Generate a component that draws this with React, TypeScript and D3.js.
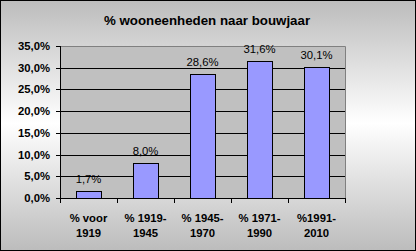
import React from "react";
import * as d3 from "d3";

const categories = ["% voor|1919", "% 1919-|1945", "% 1945-|1970", "% 1971-|1990", "%1991-|2010"];
const values = [1.7, 8.0, 28.6, 31.6, 30.1];
const valueLabels = ["1,7%", "8,0%", "28,6%", "31,6%", "30,1%"];
const yTicks = [0, 5, 10, 15, 20, 25, 30, 35];
const title = "% wooneenheden naar bouwjaar";

const W = 416;
const H = 251;
const plot = { left: 60, right: 345, top: 46, bottom: 198 };
const font = "'Liberation Sans', Arial, sans-serif";

export default function App() {
  const x = d3
    .scaleBand<string>()
    .domain(categories)
    .range([plot.left, plot.right])
    .paddingInner(0.56)
    .paddingOuter(0.28);
  const y = d3.scaleLinear().domain([0, 35]).range([plot.bottom, plot.top]);
  const step = x.step();
  const fmt = (v: number) => d3.format(".1f")(v).replace(".", ",") + "%";

  return (
    <div style={{ position: "fixed", left: 0, top: 0 }}>
      <svg width={W} height={H} style={{ display: "block" }}>
        <defs>
          <linearGradient id="bg" x1="0" y1="0" x2="0" y2="1">
            <stop offset="0" stopColor="#bcbcbc" />
            <stop offset="0.49" stopColor="#ffffff" />
            <stop offset="1" stopColor="#bcbcbc" />
          </linearGradient>
        </defs>
        <rect x={0.5} y={0.5} width={W - 1} height={H - 1} fill="url(#bg)" stroke="#000" strokeWidth={1} />
        <text
          x={207}
          y={25}
          textAnchor="middle"
          fontFamily={font}
          fontWeight="bold"
          fontSize={13.3}
          fill="#000"
        >
          {title}
        </text>
        <rect
          x={plot.left}
          y={plot.top}
          width={plot.right - plot.left}
          height={plot.bottom - plot.top}
          fill="#c0c0c0"
        />
        <path
          d={`M${plot.left},${plot.top + 0.5}H${plot.right + 0.5}V${plot.bottom}`}
          fill="none"
          stroke="#808080"
          strokeWidth={1}
        />
        {yTicks.slice(1, -1).map((t) => (
          <line
            key={"g" + t}
            x1={plot.left}
            x2={plot.right}
            y1={Math.round(y(t)) + 0.5}
            y2={Math.round(y(t)) + 0.5}
            stroke="#000"
            strokeWidth={1}
          />
        ))}
        {categories.map((c, i) => {
          const x0 = x(c)!;
          const yv = y(values[i]);
          return (
            <g key={c}>
              <rect
                x={Math.round(x0) + 0.5}
                y={Math.round(yv) + 0.5}
                width={Math.round(x.bandwidth())}
                height={Math.round(plot.bottom) - Math.round(yv)}
                fill="#9999ff"
                stroke="#000"
                strokeWidth={1}
              />
              <text
                x={x0 + x.bandwidth() / 2}
                y={yv - 8}
                textAnchor="middle"
                fontFamily={font}
                fontSize={11.3}
                fill="#000"
              >
                {valueLabels[i]}
              </text>
            </g>
          );
        })}
        {/* y axis */}
        <line x1={plot.left + 0.5} x2={plot.left + 0.5} y1={plot.top} y2={plot.bottom} stroke="#000" />
        {yTicks.map((t) => (
          <g key={"t" + t}>
            <line
              x1={plot.left - 4}
              x2={plot.left}
              y1={Math.round(y(t)) + 0.5}
              y2={Math.round(y(t)) + 0.5}
              stroke="#000"
            />
            <text
              x={50}
              y={y(t) + 4}
              textAnchor="end"
              fontFamily={font}
              fontWeight="bold"
              fontSize={11.3}
              fill="#000"
            >
              {fmt(t)}
            </text>
          </g>
        ))}
        {/* x axis */}
        <line x1={plot.left} x2={plot.right + 1} y1={plot.bottom + 0.5} y2={plot.bottom + 0.5} stroke="#000" />
        {d3.range(categories.length + 1).map((i) => {
          const xt = Math.round(plot.left + i * step) + 0.5;
          return <line key={"xt" + i} x1={xt} x2={xt} y1={plot.bottom} y2={plot.bottom + 5} stroke="#000" />;
        })}
        {categories.map((c) => {
          const cx = x(c)! + x.bandwidth() / 2;
          const [l1, l2] = c.split("|");
          return (
            <text
              key={"xl" + c}
              x={cx}
              textAnchor="middle"
              fontFamily={font}
              fontWeight="bold"
              fontSize={11.3}
              fill="#000"
            >
              <tspan x={cx} y={222}>
                {l1}
              </tspan>
              <tspan x={cx} y={237}>
                {l2}
              </tspan>
            </text>
          );
        })}
      </svg>
    </div>
  );
}
